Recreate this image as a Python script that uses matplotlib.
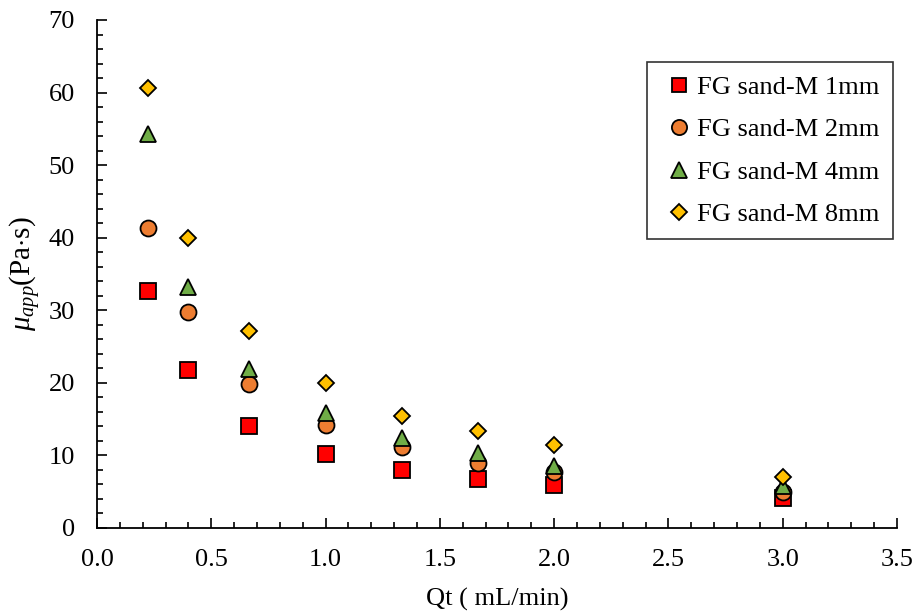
import matplotlib
matplotlib.use("Agg")
import matplotlib.pyplot as plt
from matplotlib.ticker import MultipleLocator

plt.rcParams["font.family"] = ["Liberation Serif", "DejaVu Serif"]
plt.rcParams["mathtext.fontset"] = "custom"
plt.rcParams["mathtext.rm"] = "Liberation Serif"
plt.rcParams["mathtext.it"] = "Liberation Serif:italic"

# Flow rate (mL/min)
qt = [0.222, 0.4, 0.667, 1.0, 1.333, 1.667, 2.0, 3.0]

# Apparent viscosity (Pa·s) per particle size
mu_1mm = [32.6, 21.8, 14.1, 10.2, 8.0, 6.8, 5.9, 4.2]
mu_2mm = [41.4, 29.8, 19.8, 14.2, 11.2, 9.0, 7.7, 5.0]
mu_4mm = [54.3, 33.2, 21.9, 15.8, 12.4, 10.3, 8.5, 5.8]
mu_8mm = [60.6, 40.0, 27.1, 20.0, 15.5, 13.3, 11.4, 7.0]

series = [
    ("FG sand-M 1mm", mu_1mm, "s", "#ff0000", 11),
    ("FG sand-M 2mm", mu_2mm, "o", "#ed7d31", 11.5),
    ("FG sand-M 4mm", mu_4mm, "^", "#70ad47", 12),
    ("FG sand-M 8mm", mu_8mm, "D", "#ffc000", 8.5),
]

fig = plt.figure(figsize=(9.16, 6.15), dpi=100)
ax = fig.add_axes([97 / 916, 87 / 615, 800 / 916, 508 / 615])

for label, vals, marker, color, size in series:
    ax.plot(qt, vals, linestyle="none", marker=marker, markersize=size,
            markerfacecolor=color, markeredgecolor="black",
            markeredgewidth=1.3, label=label)

ax.set_xlim(0, 3.5)
ax.set_ylim(0, 70)
ax.xaxis.set_major_locator(MultipleLocator(0.5))
ax.xaxis.set_minor_locator(MultipleLocator(0.1))
ax.yaxis.set_major_locator(MultipleLocator(10))
ax.yaxis.set_minor_locator(MultipleLocator(2))
ax.xaxis.set_major_formatter(plt.FormatStrFormatter("%.1f"))
ax.tick_params(which="major", direction="in", length=7, width=1.2,
               labelsize=19)
ax.tick_params(which="minor", direction="in", length=4, width=1.2)
ax.tick_params(axis="x", which="major", pad=15)
ax.tick_params(axis="y", which="major", pad=16)

ax.spines["top"].set_visible(False)
ax.spines["right"].set_visible(False)
ax.spines["left"].set_linewidth(1.3)
ax.spines["bottom"].set_linewidth(1.3)

ax.set_xlabel("Qt ( mL/min)", fontsize=19, labelpad=12)
ax.set_ylabel(r"$\mu_{app}$(Pa$\cdot$s)", fontsize=21, labelpad=4)

leg = ax.legend(loc="upper right", bbox_to_anchor=(0.995, 0.917),
                fontsize=19, frameon=True, fancybox=False,
                handletextpad=0.0, handlelength=1.4, borderpad=0.5,
                labelspacing=0.72, borderaxespad=0, markerscale=0.95)
leg.get_frame().set_edgecolor("black")
leg.get_frame().set_linewidth(1.2)

fig.savefig("out.png", dpi=100)
